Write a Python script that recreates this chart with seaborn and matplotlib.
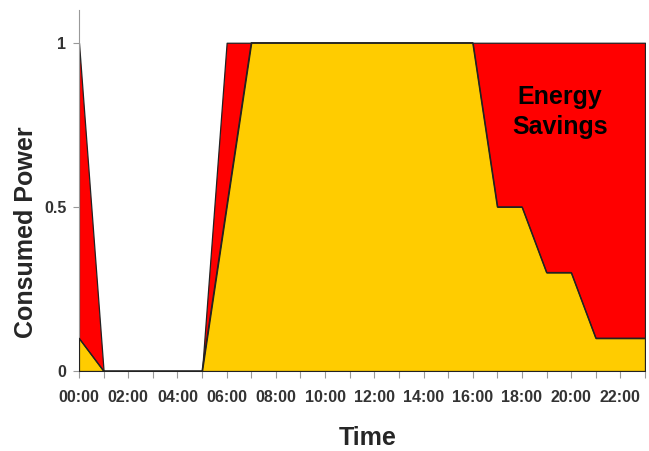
import numpy as np
import pandas as pd
import seaborn as sns
from matplotlib import pyplot as plt
from matplotlib import font_manager
from matplotlib.ticker import MultipleLocator

# hourly values
hours = list(range(24))
full_power = [1.0, 0, 0, 0, 0, 0, 1.0, 1.0, 1.0, 1.0, 1.0, 1.0,
              1.0, 1.0, 1.0, 1.0, 1.0, 1.0, 1.0, 1.0, 1.0, 1.0, 1.0, 1.0]
actual_power = [0.1, 0, 0, 0, 0, 0, 0.5, 1.0, 1.0, 1.0, 1.0, 1.0,
                1.0, 1.0, 1.0, 1.0, 1.0, 0.5, 0.5, 0.3, 0.3, 0.1, 0.1, 0.1]
x_labels = ["%02d:00" % h for h in range(0, 24, 2)]
y_ticks = [0, 0.5, 1]
y_labels = ["0", "0.5", "1"]

df = pd.DataFrame({"hour": hours, "full": full_power, "actual": actual_power})

sns.set_style("white")
plt.rcParams['font.family'] = ['Liberation Sans', 'DejaVu Sans']

# narrow font for the tick labels, if it is there
names = set(f.name for f in font_manager.fontManager.ttflist)
if "Liberation Sans Narrow" in names:
    tick_family = ["Liberation Sans Narrow", "DejaVu Sans"]
    tick_size = 13
else:
    tick_family = ["Liberation Sans", "DejaVu Sans"]
    tick_size = 11.5

fig = plt.figure(figsize=(6.49, 4.51), dpi=100)
ax = fig.add_axes([0.1217, 0.1774, 0.8721, 0.8006])

# red = savings area (full consumption), yellow = actual consumption
ax.fill_between(df["hour"], 0, df["full"], facecolor="#FF0000",
                edgecolor="#222222", linewidth=0.9, zorder=2)
ax.fill_between(df["hour"], 0, df["actual"], facecolor="#FFCC00",
                edgecolor="#222222", linewidth=0.9, zorder=3)
sns.lineplot(data=df, x="hour", y="actual", color="#222222", linewidth=0.9,
             ax=ax, zorder=4)

ax.set_xlim(0, 23)
ax.set_ylim(0, 1.1)

ax.xaxis.set_minor_locator(MultipleLocator(1))
ax.set_xticks(range(0, 24, 2))
ax.set_xticklabels(x_labels)
ax.set_yticks(y_ticks)
ax.set_yticklabels(y_labels)

ax.tick_params(axis="x", which="both", direction="out", length=5, width=0.8,
               color="#999999", bottom=True, labelcolor="#333333", pad=9)
ax.tick_params(axis="y", which="major", direction="out", length=4, width=0.8,
               color="#999999", left=True, labelcolor="#333333", pad=5)
for lab in ax.get_xticklabels() + ax.get_yticklabels():
    lab.set_fontweight("bold")
    lab.set_family(tick_family)
    lab.set_fontsize(tick_size)

for side in ["top", "right"]:
    ax.spines[side].set_visible(False)
ax.spines["left"].set_color("#999999")
ax.spines["bottom"].set_color("#999999")

ax.set_xlabel("Time", fontsize=18, fontweight="bold")
ax.set_ylabel("Consumed Power", fontsize=18, fontweight="bold")
ax.xaxis.set_label_coords(0.51, -0.152)
ax.yaxis.set_label_coords(-0.072, 0.385)

ax.text(19.55, 0.79, "Energy\nSavings", ha="center", va="center", fontsize=18,
        fontweight="bold", color="black", linespacing=1.3, zorder=5)

fig.savefig("out.png", dpi=100)
